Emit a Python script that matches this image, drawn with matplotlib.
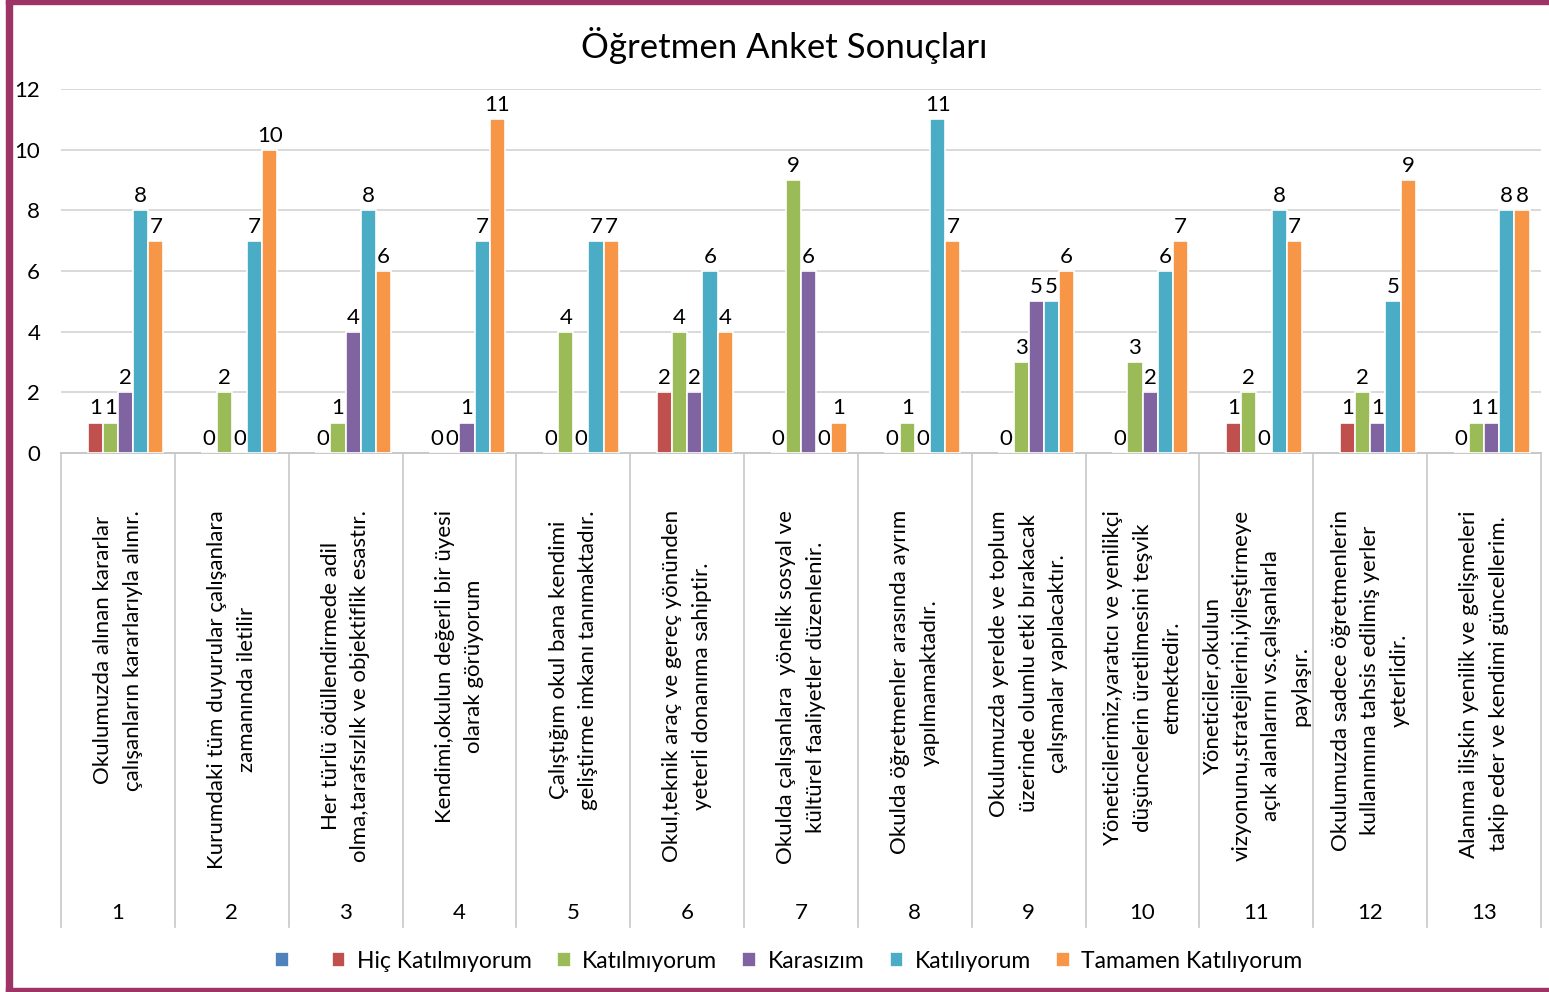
import matplotlib
matplotlib.use('Agg')
import matplotlib.pyplot as plt
from matplotlib.patches import Rectangle
import numpy as np

plt.rcParams['font.family'] = ['Lato', 'DejaVu Sans']

# ===== veri =====
kategoriler = [
    "Okulumuzda alınan kararlar\nçalışanların kararlarıyla alınır.",
    "Kurumdaki tüm duyurular çalışanlara\nzamanında iletilir",
    "Her türlü ödüllendirmede adil\nolma,tarafsızlık ve objektiflik esastır.",
    "Kendimi,okulun değerli bir üyesi\nolarak görüyorum",
    "Çalıştığım okul bana kendimi\ngeliştirme imkanı tanımaktadır.",
    "Okul,teknik araç ve gereç yönünden\nyeterli donanıma sahiptir.",
    "Okulda çalışanlara  yönelik sosyal ve\nkültürel faaliyetler düzenlenir.",
    "Okulda öğretmenler arasında ayrım\nyapılmamaktadır.",
    "Okulumuzda yerelde ve toplum\nüzerinde olumlu etki bırakacak\nçalışmalar yapılacaktır.",
    "Yöneticilerimiz,yaratıcı ve yenilikçi\ndüşüncelerin üretilmesini teşvik\netmektedir.",
    "Yöneticiler,okulun\nvizyonunu,stratejilerini,iyileştirmeye\naçık alanlarını vs.çalışanlarla\npaylaşır.",
    "Okulumuzda sadece öğretmenlerin\nkullanımına tahsis edilmiş yerler\nyeterlidir.",
    "Alanıma ilişkin yenilik ve gelişmeleri\ntakip eder ve kendimi güncellerim.",
]
madde_no = [str(i) for i in range(1, 14)]

seriler = ['', 'Hiç Katılmıyorum', 'Katılmıyorum', 'Karasızım',
           'Katılıyorum', 'Tamamen Katılıyorum']

bos_seri = [None] * 13   # ilk seri boş (sadece lejantta)
hic_katilmiyorum = [1, 0, 0, 0, 0, 2, 0, 0, 0, 0, 1, 1, 0]
katilmiyorum = [1, 2, 1, 0, 4, 4, 9, 1, 3, 3, 2, 2, 1]
karasizim = [2, 0, 4, 1, 0, 2, 6, 0, 5, 2, 0, 1, 1]
katiliyorum = [8, 7, 8, 7, 7, 6, 0, 11, 5, 6, 8, 5, 8]
tamamen = [7, 10, 6, 11, 7, 4, 1, 7, 6, 7, 7, 9, 8]

degerler = [bos_seri, hic_katilmiyorum, katilmiyorum, karasizim,
            katiliyorum, tamamen]

# Office 2007 renkleri
RENKLER = ['#4F81BD', '#C0504D', '#9BBB59', '#8064A2', '#4BACC6', '#F79646']

W, H = 1549, 992
fig = plt.figure(figsize=(W / 100, H / 100), dpi=100)
fig.patch.set_facecolor('white')

ax_sol, ax_sag, ax_alt, ax_ust = 61, 1541, 453, 89
ax = fig.add_axes([ax_sol / W, 1 - ax_alt / H,
                   (ax_sag - ax_sol) / W, (ax_alt - ax_ust) / H])

x = np.arange(len(kategoriler))
n = len(seriler)
genislik = 1 / (n + 1.5)

for i, (ad, vals, renk) in enumerate(zip(seriler, degerler, RENKLER)):
    konum = x + (i - (n - 1) / 2) * genislik
    y = [np.nan if v is None else v for v in vals]
    ax.bar(konum, y, genislik, color=renk, edgecolor='white',
           linewidth=1.2, label=ad if ad else ' ', zorder=3)
    for xi, v in zip(konum, vals):
        if v is None:
            continue
        ax.annotate(str(v), (xi, v), xytext=(0, 3), textcoords='offset points',
                    ha='center', va='bottom', fontsize=16, color='black')

ax.set_xlim(-0.5, len(kategoriler) - 0.5)
ax.set_ylim(0, 12)
ax.set_yticks(range(0, 13, 2))
ax.tick_params(axis='y', length=0, pad=15, labelsize=16)
ax.tick_params(axis='x', length=0)
ax.set_xticks([])
ax.grid(axis='y', color='#D9D9D9', linewidth=1.4, zorder=0)
for s in ['top', 'right', 'left']:
    ax.spines[s].set_visible(False)
ax.spines['bottom'].set_color('#C8C8C8')
ax.spines['bottom'].set_linewidth(1.4)

# çok düzeyli kategori ekseni
alt_sinir = -(927 - ax_alt) / (ax_alt - ax_ust)
trans = ax.get_xaxis_transform()
for s in np.arange(-0.5, len(kategoriler)):
    ax.plot([s, s], [0, alt_sinir], color='#C8C8C8', linewidth=1.2,
            transform=trans, clip_on=False)

metin_ust = -(510 - ax_alt) / (ax_alt - ax_ust)
no_y = -(913 - ax_alt) / (ax_alt - ax_ust)
for xi, etiket, no in zip(x, kategoriler, madde_no):
    ax.text(xi, metin_ust, etiket, transform=trans, rotation=90,
            ha='center', va='top', multialignment='center',
            fontsize=16, linespacing=1.6)
    ax.text(xi, no_y, no, transform=trans, ha='center', va='center',
            fontsize=16)

fig.text(784 / W, 1 - 45 / H, 'Öğretmen Anket Sonuçları',
         ha='center', va='center', fontsize=25)

fig.legend(loc='center', bbox_to_anchor=(789 / W, 1 - 961 / H), ncol=6,
           frameon=False, fontsize=16.5, handlelength=0.6, handleheight=0.6,
           handletextpad=0.5, columnspacing=1.1)

# çerçeve
cerceve = '#9E3366'
fig.patches.append(Rectangle((6 / W, 0), 6 / W, 1, transform=fig.transFigure,
                             color=cerceve, zorder=10))
fig.patches.append(Rectangle((6 / W, 1 - 4 / H), 1, 4 / H,
                             transform=fig.transFigure, color=cerceve, zorder=10))
fig.patches.append(Rectangle((6 / W, 0), 1, 4 / H,
                             transform=fig.transFigure, color=cerceve, zorder=10))

fig.savefig('out.png', dpi=100)
